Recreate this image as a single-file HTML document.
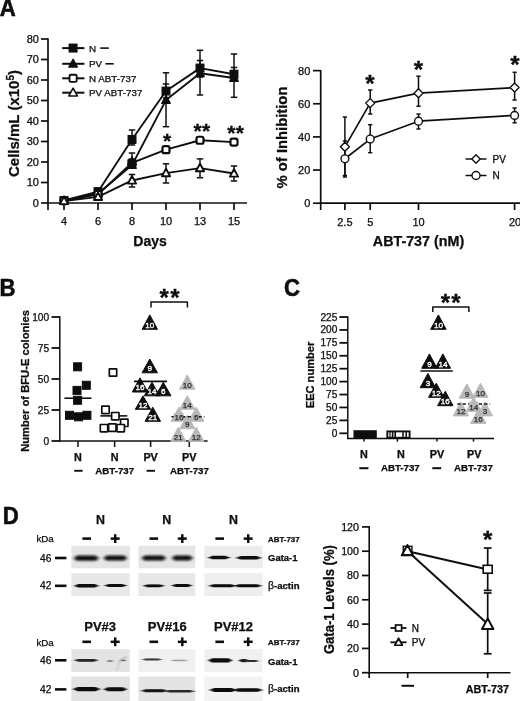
<!DOCTYPE html><html><head><meta charset="utf-8"><title>Figure</title>
<style>html,body{margin:0;padding:0;background:#fff;}svg{display:block;}text{font-family:"Liberation Sans",sans-serif;}</style></head><body>
<svg width="520" height="701" viewBox="0 0 520 701">
<defs><filter id="soft" x="0" y="0" width="520" height="701" filterUnits="userSpaceOnUse"><feGaussianBlur stdDeviation="0.35"/></filter><filter id="bl" x="-10%" y="-50%" width="120%" height="200%"><feGaussianBlur stdDeviation="1.5 1.15"/></filter><filter id="bl2" x="-10%" y="-50%" width="120%" height="200%"><feGaussianBlur stdDeviation="1.2 0.6"/></filter></defs>
<rect width="520" height="701" fill="#fff"/>
<g filter="url(#soft)">
<text x="-0.3" y="15.8" font-size="23" text-anchor="start" fill="#0a0a0a" font-weight="700" stroke="#0a0a0a" stroke-width="0.55" textLength="16.0" lengthAdjust="spacingAndGlyphs" >A</text>
<text x="-0.5" y="296.2" font-size="23" text-anchor="start" fill="#0a0a0a" font-weight="700" stroke="#0a0a0a" stroke-width="0.55" textLength="16.0" lengthAdjust="spacingAndGlyphs" >B</text>
<text x="283.9" y="296" font-size="23" text-anchor="start" fill="#0a0a0a" font-weight="700" stroke="#0a0a0a" stroke-width="0.55" textLength="16.0" lengthAdjust="spacingAndGlyphs" >C</text>
<text x="2.7" y="523.7" font-size="23" text-anchor="start" fill="#0a0a0a" font-weight="700" stroke="#0a0a0a" stroke-width="0.55" textLength="16.0" lengthAdjust="spacingAndGlyphs" >D</text>
<line x1="48.0" y1="38.2" x2="48.0" y2="203.85" stroke="#111" stroke-width="1.7" />
<line x1="47.15" y1="203.0" x2="247" y2="203.0" stroke="#111" stroke-width="1.7" />
<line x1="41" y1="203.0" x2="48.0" y2="203.0" stroke="#111" stroke-width="1.7" />
<text x="38.9" y="206.9" font-size="11" text-anchor="end" fill="#0a0a0a" stroke="#0a0a0a" stroke-width="0.25" >0</text>
<line x1="41" y1="182.5" x2="48.0" y2="182.5" stroke="#111" stroke-width="1.7" />
<text x="38.9" y="186.4" font-size="11" text-anchor="end" fill="#0a0a0a" stroke="#0a0a0a" stroke-width="0.25" >10</text>
<line x1="41" y1="162.0" x2="48.0" y2="162.0" stroke="#111" stroke-width="1.7" />
<text x="38.9" y="165.9" font-size="11" text-anchor="end" fill="#0a0a0a" stroke="#0a0a0a" stroke-width="0.25" >20</text>
<line x1="41" y1="141.5" x2="48.0" y2="141.5" stroke="#111" stroke-width="1.7" />
<text x="38.9" y="145.4" font-size="11" text-anchor="end" fill="#0a0a0a" stroke="#0a0a0a" stroke-width="0.25" >30</text>
<line x1="41" y1="121.0" x2="48.0" y2="121.0" stroke="#111" stroke-width="1.7" />
<text x="38.9" y="124.9" font-size="11" text-anchor="end" fill="#0a0a0a" stroke="#0a0a0a" stroke-width="0.25" >40</text>
<line x1="41" y1="100.5" x2="48.0" y2="100.5" stroke="#111" stroke-width="1.7" />
<text x="38.9" y="104.4" font-size="11" text-anchor="end" fill="#0a0a0a" stroke="#0a0a0a" stroke-width="0.25" >50</text>
<line x1="41" y1="80.0" x2="48.0" y2="80.0" stroke="#111" stroke-width="1.7" />
<text x="38.9" y="83.9" font-size="11" text-anchor="end" fill="#0a0a0a" stroke="#0a0a0a" stroke-width="0.25" >60</text>
<line x1="41" y1="59.5" x2="48.0" y2="59.5" stroke="#111" stroke-width="1.7" />
<text x="38.9" y="63.4" font-size="11" text-anchor="end" fill="#0a0a0a" stroke="#0a0a0a" stroke-width="0.25" >70</text>
<line x1="41" y1="39.0" x2="48.0" y2="39.0" stroke="#111" stroke-width="1.7" />
<text x="38.9" y="42.9" font-size="11" text-anchor="end" fill="#0a0a0a" stroke="#0a0a0a" stroke-width="0.25" >80</text>
<line x1="48.0" y1="203.0" x2="48.0" y2="210" stroke="#111" stroke-width="1.7" />
<line x1="64" y1="203.0" x2="64" y2="210" stroke="#111" stroke-width="1.7" />
<text x="64" y="225.4" font-size="11" text-anchor="middle" fill="#0a0a0a" stroke="#0a0a0a" stroke-width="0.25" >4</text>
<line x1="98" y1="203.0" x2="98" y2="210" stroke="#111" stroke-width="1.7" />
<text x="98" y="225.4" font-size="11" text-anchor="middle" fill="#0a0a0a" stroke="#0a0a0a" stroke-width="0.25" >6</text>
<line x1="132" y1="203.0" x2="132" y2="210" stroke="#111" stroke-width="1.7" />
<text x="132" y="225.4" font-size="11" text-anchor="middle" fill="#0a0a0a" stroke="#0a0a0a" stroke-width="0.25" >8</text>
<line x1="166" y1="203.0" x2="166" y2="210" stroke="#111" stroke-width="1.7" />
<text x="166" y="225.4" font-size="11" text-anchor="middle" fill="#0a0a0a" stroke="#0a0a0a" stroke-width="0.25" >10</text>
<line x1="200" y1="203.0" x2="200" y2="210" stroke="#111" stroke-width="1.7" />
<text x="200" y="225.4" font-size="11" text-anchor="middle" fill="#0a0a0a" stroke="#0a0a0a" stroke-width="0.25" >13</text>
<line x1="234" y1="203.0" x2="234" y2="210" stroke="#111" stroke-width="1.7" />
<text x="234" y="225.4" font-size="11" text-anchor="middle" fill="#0a0a0a" stroke="#0a0a0a" stroke-width="0.25" >15</text>
<text x="150" y="245.9" font-size="14" text-anchor="middle" fill="#0a0a0a" font-weight="700" stroke="#0a0a0a" stroke-width="0.25" >Days</text>
<text x="19.4" y="123.5" font-size="15" text-anchor="middle" fill="#0a0a0a" font-weight="700" stroke="#0a0a0a" stroke-width="0.25" transform="rotate(-90 19.4 123.5)" >Cells/mL (x10<tspan font-size="10" dy="-5">5</tspan><tspan dy="5">)</tspan></text>
<line x1="132" y1="130" x2="132" y2="145" stroke="#111" stroke-width="1.5" />
<line x1="128.8" y1="130" x2="135.2" y2="130" stroke="#111" stroke-width="1.5" />
<line x1="128.8" y1="145" x2="135.2" y2="145" stroke="#111" stroke-width="1.5" />
<line x1="166" y1="72.8" x2="166" y2="126.7" stroke="#111" stroke-width="1.5" />
<line x1="162.8" y1="72.8" x2="169.2" y2="72.8" stroke="#111" stroke-width="1.5" />
<line x1="162.8" y1="126.7" x2="169.2" y2="126.7" stroke="#111" stroke-width="1.5" />
<line x1="200" y1="50.3" x2="200" y2="95" stroke="#111" stroke-width="1.5" />
<line x1="196.8" y1="50.3" x2="203.2" y2="50.3" stroke="#111" stroke-width="1.5" />
<line x1="196.8" y1="95" x2="203.2" y2="95" stroke="#111" stroke-width="1.5" />
<line x1="234" y1="54" x2="234" y2="97.3" stroke="#111" stroke-width="1.5" />
<line x1="230.8" y1="54" x2="237.2" y2="54" stroke="#111" stroke-width="1.5" />
<line x1="230.8" y1="97.3" x2="237.2" y2="97.3" stroke="#111" stroke-width="1.5" />
<line x1="200" y1="60.5" x2="200" y2="77" stroke="#111" stroke-width="1.5" />
<line x1="196.8" y1="60.5" x2="203.2" y2="60.5" stroke="#111" stroke-width="1.5" />
<line x1="196.8" y1="77" x2="203.2" y2="77" stroke="#111" stroke-width="1.5" />
<line x1="234" y1="67.5" x2="234" y2="80" stroke="#111" stroke-width="1.5" />
<line x1="230.8" y1="67.5" x2="237.2" y2="67.5" stroke="#111" stroke-width="1.5" />
<line x1="230.8" y1="80" x2="237.2" y2="80" stroke="#111" stroke-width="1.5" />
<line x1="132" y1="153" x2="132" y2="168" stroke="#111" stroke-width="1.5" />
<line x1="128.8" y1="153" x2="135.2" y2="153" stroke="#111" stroke-width="1.5" />
<line x1="128.8" y1="168" x2="135.2" y2="168" stroke="#111" stroke-width="1.5" />
<line x1="166" y1="84" x2="166" y2="98" stroke="#111" stroke-width="1.5" />
<line x1="162.8" y1="84" x2="169.2" y2="84" stroke="#111" stroke-width="1.5" />
<line x1="162.8" y1="98" x2="169.2" y2="98" stroke="#111" stroke-width="1.5" />
<line x1="132" y1="174.5" x2="132" y2="187" stroke="#111" stroke-width="1.5" />
<line x1="128.8" y1="174.5" x2="135.2" y2="174.5" stroke="#111" stroke-width="1.5" />
<line x1="128.8" y1="187" x2="135.2" y2="187" stroke="#111" stroke-width="1.5" />
<line x1="166" y1="163.8" x2="166" y2="183" stroke="#111" stroke-width="1.5" />
<line x1="162.8" y1="163.8" x2="169.2" y2="163.8" stroke="#111" stroke-width="1.5" />
<line x1="162.8" y1="183" x2="169.2" y2="183" stroke="#111" stroke-width="1.5" />
<line x1="200" y1="158.9" x2="200" y2="177.7" stroke="#111" stroke-width="1.5" />
<line x1="196.8" y1="158.9" x2="203.2" y2="158.9" stroke="#111" stroke-width="1.5" />
<line x1="196.8" y1="177.7" x2="203.2" y2="177.7" stroke="#111" stroke-width="1.5" />
<line x1="234" y1="166" x2="234" y2="181" stroke="#111" stroke-width="1.5" />
<line x1="230.8" y1="166" x2="237.2" y2="166" stroke="#111" stroke-width="1.5" />
<line x1="230.8" y1="181" x2="237.2" y2="181" stroke="#111" stroke-width="1.5" />
<line x1="98" y1="188" x2="98" y2="197" stroke="#111" stroke-width="1.5" />
<line x1="94.8" y1="188" x2="101.2" y2="188" stroke="#111" stroke-width="1.5" />
<line x1="94.8" y1="197" x2="101.2" y2="197" stroke="#111" stroke-width="1.5" />
<polyline points="64,200.54 98,191.72 132,139.45 166,91.07 200,68.11 234,74.26" fill="none" stroke="#111" stroke-width="1.9" stroke-linejoin="round" />
<polyline points="64,200.54 98,193.78 132,165.07 166,100.09 200,73.24 234,77.95" fill="none" stroke="#111" stroke-width="1.9" stroke-linejoin="round" />
<polyline points="64,200.54 98,194.39 132,162.82 166,149.7 200,140.27 234,142.12" fill="none" stroke="#111" stroke-width="1.9" stroke-linejoin="round" />
<polyline points="64,200.95 98,196.85 132,180.45 166,173.07 200,168.15 234,173.48" fill="none" stroke="#111" stroke-width="1.9" stroke-linejoin="round" />
<rect x="60.2" y="196.73999999999998" width="7.6" height="7.6" rx="0" fill="#111" stroke="#111" stroke-width="1.4"/>
<rect x="94.2" y="187.92" width="7.6" height="7.6" rx="0" fill="#111" stroke="#111" stroke-width="1.4"/>
<rect x="128.2" y="135.64999999999998" width="7.6" height="7.6" rx="0" fill="#111" stroke="#111" stroke-width="1.4"/>
<rect x="162.2" y="87.27" width="7.6" height="7.6" rx="0" fill="#111" stroke="#111" stroke-width="1.4"/>
<rect x="196.2" y="64.31" width="7.6" height="7.6" rx="0" fill="#111" stroke="#111" stroke-width="1.4"/>
<rect x="230.2" y="70.46000000000001" width="7.6" height="7.6" rx="0" fill="#111" stroke="#111" stroke-width="1.4"/>
<polygon points="64,196.0044 59.75,203.8244 68.25,203.8244" fill="#111" stroke="#111" stroke-width="1.4" stroke-linejoin="round"/>
<polygon points="98,189.2444 93.75,197.0644 102.25,197.0644" fill="#111" stroke="#111" stroke-width="1.4" stroke-linejoin="round"/>
<polygon points="132,160.5344 127.75,168.3544 136.25,168.3544" fill="#111" stroke="#111" stroke-width="1.4" stroke-linejoin="round"/>
<polygon points="166,95.5544 161.75,103.37440000000001 170.25,103.37440000000001" fill="#111" stroke="#111" stroke-width="1.4" stroke-linejoin="round"/>
<polygon points="200,68.70439999999999 195.75,76.5244 204.25,76.5244" fill="#111" stroke="#111" stroke-width="1.4" stroke-linejoin="round"/>
<polygon points="234,73.4144 229.75,81.23440000000001 238.25,81.23440000000001" fill="#111" stroke="#111" stroke-width="1.4" stroke-linejoin="round"/>
<rect x="60.5" y="197.04" width="7.0" height="7.0" rx="1.8" fill="#fff" stroke="#111" stroke-width="2.2"/>
<rect x="94.5" y="190.89" width="7.0" height="7.0" rx="1.8" fill="#fff" stroke="#111" stroke-width="2.2"/>
<rect x="128.5" y="159.32" width="7.0" height="7.0" rx="1.8" fill="#fff" stroke="#111" stroke-width="2.2"/>
<rect x="162.5" y="146.2" width="7.0" height="7.0" rx="1.8" fill="#fff" stroke="#111" stroke-width="2.2"/>
<rect x="196.5" y="136.77" width="7.0" height="7.0" rx="1.8" fill="#fff" stroke="#111" stroke-width="2.2"/>
<rect x="230.5" y="138.62" width="7.0" height="7.0" rx="1.8" fill="#fff" stroke="#111" stroke-width="2.2"/>
<polygon points="64,196.57448 59.9,204.11847999999998 68.1,204.11847999999998" fill="#fff" stroke="#111" stroke-width="1.9" stroke-linejoin="round"/>
<polygon points="98,192.47448 93.9,200.01847999999998 102.1,200.01847999999998" fill="#fff" stroke="#111" stroke-width="1.9" stroke-linejoin="round"/>
<polygon points="132,176.07448 127.9,183.61847999999998 136.1,183.61847999999998" fill="#fff" stroke="#111" stroke-width="1.9" stroke-linejoin="round"/>
<polygon points="166,168.69448 161.9,176.23847999999998 170.1,176.23847999999998" fill="#fff" stroke="#111" stroke-width="1.9" stroke-linejoin="round"/>
<polygon points="200,163.77448 195.9,171.31848 204.1,171.31848" fill="#fff" stroke="#111" stroke-width="1.9" stroke-linejoin="round"/>
<polygon points="234,169.10448 229.9,176.64847999999998 238.1,176.64847999999998" fill="#fff" stroke="#111" stroke-width="1.9" stroke-linejoin="round"/>
<rect x="128.5" y="159.9" width="7.0" height="7.0" rx="0" fill="#111" stroke="#111" stroke-width="1.4"/>
<polygon points="132,157.0644 127.75,164.8844 136.25,164.8844" fill="#111" stroke="#111" stroke-width="1.4" stroke-linejoin="round"/>
<text x="167.0" y="147.9" font-size="21" text-anchor="middle" fill="#0a0a0a" font-weight="700" stroke="#0a0a0a" stroke-width="0.3" >*</text>
<text x="197.6" y="138.4" font-size="21" text-anchor="middle" fill="#0a0a0a" font-weight="700" stroke="#0a0a0a" stroke-width="0.3" >*</text>
<text x="206.2" y="138.4" font-size="21" text-anchor="middle" fill="#0a0a0a" font-weight="700" stroke="#0a0a0a" stroke-width="0.3" >*</text>
<text x="231.3" y="140.3" font-size="21" text-anchor="middle" fill="#0a0a0a" font-weight="700" stroke="#0a0a0a" stroke-width="0.3" >*</text>
<text x="239.9" y="140.3" font-size="21" text-anchor="middle" fill="#0a0a0a" font-weight="700" stroke="#0a0a0a" stroke-width="0.3" >*</text>
<line x1="62.2" y1="48.1" x2="84.4" y2="48.1" stroke="#111" stroke-width="2.0" />
<rect x="69.3" y="44.300000000000004" width="7.6" height="7.6" rx="0" fill="#111" stroke="#111" stroke-width="1.4"/>
<text x="89" y="51.6" font-size="9.8" text-anchor="start" fill="#0a0a0a" stroke="#0a0a0a" stroke-width="0.25" >N</text>
<line x1="62.2" y1="63.8" x2="84.4" y2="63.8" stroke="#111" stroke-width="2.0" />
<polygon points="73.1,59.264399999999995 68.85,67.0844 77.35,67.0844" fill="#111" stroke="#111" stroke-width="1.4" stroke-linejoin="round"/>
<text x="89" y="67.3" font-size="9.8" text-anchor="start" fill="#0a0a0a" stroke="#0a0a0a" stroke-width="0.25" >PV</text>
<line x1="62.2" y1="78.3" x2="84.4" y2="78.3" stroke="#111" stroke-width="2.0" />
<rect x="69.5" y="74.7" width="7.2" height="7.2" rx="1.5" fill="#fff" stroke="#111" stroke-width="1.9"/>
<text x="89" y="81.8" font-size="9.8" text-anchor="start" fill="#0a0a0a" stroke="#0a0a0a" stroke-width="0.25" >N ABT-737</text>
<line x1="62.2" y1="92.7" x2="84.4" y2="92.7" stroke="#111" stroke-width="2.0" />
<polygon points="73.1,88.1644 68.85,95.98440000000001 77.35,95.98440000000001" fill="#fff" stroke="#111" stroke-width="1.6" stroke-linejoin="round"/>
<text x="89" y="96.2" font-size="9.8" text-anchor="start" fill="#0a0a0a" stroke="#0a0a0a" stroke-width="0.25" >PV ABT-737</text>
<line x1="100.2" y1="48.1" x2="108.8" y2="48.1" stroke="#111" stroke-width="1.6" />
<line x1="105.4" y1="63.8" x2="113.7" y2="63.8" stroke="#111" stroke-width="1.6" />
<line x1="320.7" y1="70" x2="320.7" y2="204.04999999999998" stroke="#111" stroke-width="1.7" />
<line x1="319.84999999999997" y1="203.2" x2="520" y2="203.2" stroke="#111" stroke-width="1.7" />
<line x1="313" y1="203.2" x2="320.7" y2="203.2" stroke="#111" stroke-width="1.7" />
<text x="310.3" y="207.1" font-size="11" text-anchor="end" fill="#0a0a0a" stroke="#0a0a0a" stroke-width="0.25" >0</text>
<line x1="313" y1="170.06" x2="320.7" y2="170.06" stroke="#111" stroke-width="1.7" />
<text x="310.3" y="173.96" font-size="11" text-anchor="end" fill="#0a0a0a" stroke="#0a0a0a" stroke-width="0.25" >20</text>
<line x1="313" y1="136.92" x2="320.7" y2="136.92" stroke="#111" stroke-width="1.7" />
<text x="310.3" y="140.82" font-size="11" text-anchor="end" fill="#0a0a0a" stroke="#0a0a0a" stroke-width="0.25" >40</text>
<line x1="313" y1="103.78" x2="320.7" y2="103.78" stroke="#111" stroke-width="1.7" />
<text x="310.3" y="107.68" font-size="11" text-anchor="end" fill="#0a0a0a" stroke="#0a0a0a" stroke-width="0.25" >60</text>
<line x1="313" y1="70.64" x2="320.7" y2="70.64" stroke="#111" stroke-width="1.7" />
<text x="310.3" y="74.54" font-size="11" text-anchor="end" fill="#0a0a0a" stroke="#0a0a0a" stroke-width="0.25" >80</text>
<line x1="320.7" y1="203.2" x2="320.7" y2="210" stroke="#111" stroke-width="1.7" />
<line x1="344.9" y1="203.2" x2="344.9" y2="210" stroke="#111" stroke-width="1.7" />
<text x="344.9" y="225.6" font-size="11" text-anchor="middle" fill="#0a0a0a" stroke="#0a0a0a" stroke-width="0.25" >2.5</text>
<line x1="370.2" y1="203.2" x2="370.2" y2="210" stroke="#111" stroke-width="1.7" />
<text x="370.2" y="225.6" font-size="11" text-anchor="middle" fill="#0a0a0a" stroke="#0a0a0a" stroke-width="0.25" >5</text>
<line x1="418.5" y1="203.2" x2="418.5" y2="210" stroke="#111" stroke-width="1.7" />
<text x="418.5" y="225.6" font-size="11" text-anchor="middle" fill="#0a0a0a" stroke="#0a0a0a" stroke-width="0.25" >10</text>
<line x1="514.6" y1="203.2" x2="514.6" y2="210" stroke="#111" stroke-width="1.7" />
<text x="515" y="225.6" font-size="11" text-anchor="middle" fill="#0a0a0a" stroke="#0a0a0a" stroke-width="0.25" >20</text>
<text x="418.5" y="246.2" font-size="14.3" text-anchor="middle" fill="#0a0a0a" font-weight="700" stroke="#0a0a0a" stroke-width="0.25" >ABT-737 (nM)</text>
<text x="287" y="137.5" font-size="14.8" text-anchor="middle" fill="#0a0a0a" font-weight="700" stroke="#0a0a0a" stroke-width="0.25" transform="rotate(-90 287 137.5)" >% of Inhibition</text>
<line x1="344.9" y1="117" x2="344.9" y2="175.5" stroke="#111" stroke-width="1.5" />
<line x1="342.79999999999995" y1="117" x2="347.0" y2="117" stroke="#111" stroke-width="1.5" />
<line x1="342.79999999999995" y1="175.5" x2="347.0" y2="175.5" stroke="#111" stroke-width="1.5" />
<line x1="370.2" y1="90" x2="370.2" y2="114" stroke="#111" stroke-width="1.5" />
<line x1="368.09999999999997" y1="90" x2="372.3" y2="90" stroke="#111" stroke-width="1.5" />
<line x1="368.09999999999997" y1="114" x2="372.3" y2="114" stroke="#111" stroke-width="1.5" />
<line x1="418.5" y1="76.2" x2="418.5" y2="106.2" stroke="#111" stroke-width="1.5" />
<line x1="416.4" y1="76.2" x2="420.6" y2="76.2" stroke="#111" stroke-width="1.5" />
<line x1="416.4" y1="106.2" x2="420.6" y2="106.2" stroke="#111" stroke-width="1.5" />
<line x1="514.6" y1="72.3" x2="514.6" y2="100" stroke="#111" stroke-width="1.5" />
<line x1="512.5" y1="72.3" x2="516.7" y2="72.3" stroke="#111" stroke-width="1.5" />
<line x1="512.5" y1="100" x2="516.7" y2="100" stroke="#111" stroke-width="1.5" />
<line x1="344.9" y1="141" x2="344.9" y2="177" stroke="#111" stroke-width="1.5" />
<line x1="342.79999999999995" y1="141" x2="347.0" y2="141" stroke="#111" stroke-width="1.5" />
<line x1="342.79999999999995" y1="177" x2="347.0" y2="177" stroke="#111" stroke-width="1.5" />
<line x1="370.2" y1="124.7" x2="370.2" y2="152.7" stroke="#111" stroke-width="1.5" />
<line x1="368.09999999999997" y1="124.7" x2="372.3" y2="124.7" stroke="#111" stroke-width="1.5" />
<line x1="368.09999999999997" y1="152.7" x2="372.3" y2="152.7" stroke="#111" stroke-width="1.5" />
<line x1="418.5" y1="114" x2="418.5" y2="129" stroke="#111" stroke-width="1.5" />
<line x1="416.4" y1="114" x2="420.6" y2="114" stroke="#111" stroke-width="1.5" />
<line x1="416.4" y1="129" x2="420.6" y2="129" stroke="#111" stroke-width="1.5" />
<line x1="514.6" y1="108" x2="514.6" y2="122.8" stroke="#111" stroke-width="1.5" />
<line x1="512.5" y1="108" x2="516.7" y2="108" stroke="#111" stroke-width="1.5" />
<line x1="512.5" y1="122.8" x2="516.7" y2="122.8" stroke="#111" stroke-width="1.5" />
<polyline points="344.9,146.86 370.2,103.12 418.5,93.18 514.6,87.54" fill="none" stroke="#111" stroke-width="1.7" stroke-linejoin="round" />
<polyline points="344.9,158.79 370.2,139.07 418.5,121.18 514.6,115.38" fill="none" stroke="#111" stroke-width="1.7" stroke-linejoin="round" />
<polygon points="344.9,142.36 349.4,146.86 344.9,151.36 340.4,146.86" fill="#fff" stroke="#111" stroke-width="1.4" stroke-linejoin="round"/>
<polygon points="370.2,98.62 374.7,103.12 370.2,107.62 365.7,103.12" fill="#fff" stroke="#111" stroke-width="1.4" stroke-linejoin="round"/>
<polygon points="418.5,88.68 423.0,93.18 418.5,97.68 414.0,93.18" fill="#fff" stroke="#111" stroke-width="1.4" stroke-linejoin="round"/>
<polygon points="514.6,83.04 519.1,87.54 514.6,92.04 510.1,87.54" fill="#fff" stroke="#111" stroke-width="1.4" stroke-linejoin="round"/>
<circle cx="344.9" cy="158.79" r="3.9" fill="#fff" stroke="#111" stroke-width="1.4"/>
<circle cx="370.2" cy="139.07" r="3.9" fill="#fff" stroke="#111" stroke-width="1.4"/>
<circle cx="418.5" cy="121.18" r="3.9" fill="#fff" stroke="#111" stroke-width="1.4"/>
<circle cx="514.6" cy="115.38" r="3.9" fill="#fff" stroke="#111" stroke-width="1.4"/>
<text x="370.0" y="91.58" font-size="24" text-anchor="middle" fill="#0a0a0a" font-weight="700" stroke="#0a0a0a" stroke-width="0.3" >*</text>
<text x="418.3" y="78.48" font-size="24" text-anchor="middle" fill="#0a0a0a" font-weight="700" stroke="#0a0a0a" stroke-width="0.3" >*</text>
<text x="514.8" y="73.38" font-size="24" text-anchor="middle" fill="#0a0a0a" font-weight="700" stroke="#0a0a0a" stroke-width="0.3" >*</text>
<line x1="465.5" y1="159" x2="486.5" y2="159" stroke="#111" stroke-width="1.5" />
<polygon points="476,154.8 480.2,159 476,163.2 471.8,159" fill="#fff" stroke="#111" stroke-width="1.4" stroke-linejoin="round"/>
<line x1="465.5" y1="175.5" x2="486.5" y2="175.5" stroke="#111" stroke-width="1.5" />
<circle cx="476" cy="175.5" r="4.0" fill="#fff" stroke="#111" stroke-width="1.4"/>
<text x="492.5" y="162.6" font-size="10" text-anchor="start" fill="#0a0a0a" stroke="#0a0a0a" stroke-width="0.25" >PV</text>
<text x="492.5" y="179.1" font-size="10" text-anchor="start" fill="#0a0a0a" stroke="#0a0a0a" stroke-width="0.25" >N</text>
<line x1="59.8" y1="316.3" x2="59.8" y2="441.75" stroke="#111" stroke-width="1.5" />
<line x1="59.05" y1="441.0" x2="207.6" y2="441.0" stroke="#111" stroke-width="1.5" />
<line x1="51.5" y1="441.0" x2="59.8" y2="441.0" stroke="#111" stroke-width="1.8" />
<text x="49.2" y="444.6" font-size="10.2" text-anchor="end" fill="#0a0a0a" stroke="#0a0a0a" stroke-width="0.25" >0</text>
<line x1="51.5" y1="410.0" x2="59.8" y2="410.0" stroke="#111" stroke-width="1.8" />
<text x="49.2" y="413.6" font-size="10.2" text-anchor="end" fill="#0a0a0a" stroke="#0a0a0a" stroke-width="0.25" >25</text>
<line x1="51.5" y1="379.0" x2="59.8" y2="379.0" stroke="#111" stroke-width="1.8" />
<text x="49.2" y="382.6" font-size="10.2" text-anchor="end" fill="#0a0a0a" stroke="#0a0a0a" stroke-width="0.25" >50</text>
<line x1="51.5" y1="348.0" x2="59.8" y2="348.0" stroke="#111" stroke-width="1.8" />
<text x="49.2" y="351.6" font-size="10.2" text-anchor="end" fill="#0a0a0a" stroke="#0a0a0a" stroke-width="0.25" >75</text>
<line x1="51.5" y1="317.0" x2="59.8" y2="317.0" stroke="#111" stroke-width="1.8" />
<text x="49.2" y="320.6" font-size="10.2" text-anchor="end" fill="#0a0a0a" stroke="#0a0a0a" stroke-width="0.25" >100</text>
<line x1="78" y1="441.0" x2="78" y2="447" stroke="#111" stroke-width="1.5" />
<line x1="114.6" y1="441.0" x2="114.6" y2="447" stroke="#111" stroke-width="1.5" />
<line x1="150.6" y1="441.0" x2="150.6" y2="447" stroke="#111" stroke-width="1.5" />
<line x1="189.3" y1="441.0" x2="189.3" y2="447" stroke="#111" stroke-width="1.5" />
<text x="78" y="461.2" font-size="10.8" text-anchor="middle" fill="#0a0a0a" font-weight="700" stroke="#0a0a0a" stroke-width="0.25" >N</text>
<text x="114.6" y="461.2" font-size="10.8" text-anchor="middle" fill="#0a0a0a" font-weight="700" stroke="#0a0a0a" stroke-width="0.25" >N</text>
<text x="150.6" y="461.2" font-size="10.8" text-anchor="middle" fill="#0a0a0a" font-weight="700" stroke="#0a0a0a" stroke-width="0.25" >PV</text>
<text x="189.3" y="461.2" font-size="10.8" text-anchor="middle" fill="#0a0a0a" font-weight="700" stroke="#0a0a0a" stroke-width="0.25" >PV</text>
<line x1="74.2" y1="470.8" x2="82.6" y2="470.8" stroke="#111" stroke-width="1.9" />
<line x1="146.6" y1="470.8" x2="155" y2="470.8" stroke="#111" stroke-width="1.9" />
<text x="114.7" y="474.2" font-size="9.7" text-anchor="middle" fill="#0a0a0a" font-weight="700" stroke="#0a0a0a" stroke-width="0.25" >ABT-737</text>
<text x="189.5" y="474.2" font-size="9.7" text-anchor="middle" fill="#0a0a0a" font-weight="700" stroke="#0a0a0a" stroke-width="0.25" >ABT-737</text>
<text x="29.3" y="381" font-size="11.2" text-anchor="middle" fill="#0a0a0a" font-weight="700" stroke="#0a0a0a" stroke-width="0.25" transform="rotate(-90 29.3 381)" >Number of BFU-E colonies</text>
<rect x="73.6" y="362.8" width="8.0" height="8.0" rx="0" fill="#111" stroke="#111" stroke-width="1.0"/>
<rect x="82.3" y="381.3" width="8.0" height="8.0" rx="0" fill="#111" stroke="#111" stroke-width="1.0"/>
<rect x="73.0" y="386.4" width="8.0" height="8.0" rx="0" fill="#111" stroke="#111" stroke-width="1.0"/>
<rect x="73.6" y="396.3" width="8.0" height="8.0" rx="0" fill="#111" stroke="#111" stroke-width="1.0"/>
<rect x="65.5" y="411.3" width="8.0" height="8.0" rx="0" fill="#111" stroke="#111" stroke-width="1.0"/>
<rect x="74.5" y="412.8" width="8.0" height="8.0" rx="0" fill="#111" stroke="#111" stroke-width="1.0"/>
<rect x="82.9" y="411.3" width="8.0" height="8.0" rx="0" fill="#111" stroke="#111" stroke-width="1.0"/>
<line x1="64.4" y1="398.2" x2="91.4" y2="398.2" stroke="#111" stroke-width="1.6" />
<line x1="100.4" y1="415.9" x2="127.3" y2="415.9" stroke="#111" stroke-width="1.6" />
<rect x="109.3" y="368.8" width="7.4" height="7.4" rx="0.3" fill="#fff" stroke="#111" stroke-width="1.7"/>
<rect x="101.8" y="406.2" width="7.4" height="7.4" rx="0.3" fill="#fff" stroke="#111" stroke-width="1.7"/>
<rect x="111.6" y="412.5" width="7.4" height="7.4" rx="0.3" fill="#fff" stroke="#111" stroke-width="1.7"/>
<rect x="120.6" y="419.1" width="7.4" height="7.4" rx="0.3" fill="#fff" stroke="#111" stroke-width="1.7"/>
<rect x="100.3" y="424.5" width="7.4" height="7.4" rx="0.3" fill="#fff" stroke="#111" stroke-width="1.7"/>
<rect x="108.6" y="423.90000000000003" width="7.4" height="7.4" rx="0.3" fill="#fff" stroke="#111" stroke-width="1.7"/>
<rect x="117.0" y="424.5" width="7.4" height="7.4" rx="0.3" fill="#fff" stroke="#111" stroke-width="1.7"/>
<line x1="134" y1="381.4" x2="167" y2="381.4" stroke="#111" stroke-width="1.6" />
<polygon points="149.8,314.9 142.10000000000002,329.3 157.5,329.3" fill="#0c0c0c" stroke="#0c0c0c" stroke-width="1" stroke-linejoin="round"/>
<text x="149.8" y="327.6" font-size="8.1" text-anchor="middle" fill="#fff" stroke="#fff" stroke-width="0.35" >10</text>
<polygon points="149.8,359 142.10000000000002,372.8 157.5,372.8" fill="#0c0c0c" stroke="#0c0c0c" stroke-width="1" stroke-linejoin="round"/>
<text x="149.8" y="371.1" font-size="8.1" text-anchor="middle" fill="#fff" stroke="#fff" stroke-width="0.35" >9</text>
<polygon points="140,377.8 132.3,392 147.7,392" fill="#0c0c0c" stroke="#0c0c0c" stroke-width="1" stroke-linejoin="round"/>
<text x="140" y="390.3" font-size="8.1" text-anchor="middle" fill="#fff" stroke="#fff" stroke-width="0.35" >16</text>
<polygon points="163.3,382.3 155.60000000000002,395.8 171.0,395.8" fill="#0c0c0c" stroke="#0c0c0c" stroke-width="1" stroke-linejoin="round"/>
<text x="163.3" y="394.1" font-size="8.1" text-anchor="middle" fill="#fff" stroke="#fff" stroke-width="0.35" >6</text>
<polygon points="152,382.3 144.3,395.8 159.7,395.8" fill="#0c0c0c" stroke="#0c0c0c" stroke-width="1" stroke-linejoin="round"/>
<text x="152" y="394.1" font-size="8.1" text-anchor="middle" fill="#fff" stroke="#fff" stroke-width="0.35" >14</text>
<polygon points="143,395.8 135.3,409.3 150.7,409.3" fill="#0c0c0c" stroke="#0c0c0c" stroke-width="1" stroke-linejoin="round"/>
<text x="143" y="407.6" font-size="8.1" text-anchor="middle" fill="#fff" stroke="#fff" stroke-width="0.35" >12</text>
<polygon points="152.8,407.2 145.10000000000002,421.3 160.5,421.3" fill="#0c0c0c" stroke="#0c0c0c" stroke-width="1" stroke-linejoin="round"/>
<text x="152.8" y="419.6" font-size="8.1" text-anchor="middle" fill="#fff" stroke="#fff" stroke-width="0.35" >21</text>
<polygon points="187.3,374.9 179.60000000000002,389.2 195.0,389.2" fill="#b9b9b9" stroke="#b9b9b9" stroke-width="1" stroke-linejoin="round"/>
<polygon points="187.3,395.8 179.60000000000002,409.3 195.0,409.3" fill="#b9b9b9" stroke="#b9b9b9" stroke-width="1" stroke-linejoin="round"/>
<polygon points="178.9,407.2 171.20000000000002,421.3 186.6,421.3" fill="#b9b9b9" stroke="#b9b9b9" stroke-width="1" stroke-linejoin="round"/>
<polygon points="196.3,407.2 188.60000000000002,421.3 204.0,421.3" fill="#b9b9b9" stroke="#b9b9b9" stroke-width="1" stroke-linejoin="round"/>
<polygon points="187.3,415.3 179.60000000000002,428.8 195.0,428.8" fill="#b9b9b9" stroke="#b9b9b9" stroke-width="1" stroke-linejoin="round"/>
<polygon points="178.3,427.3 170.60000000000002,441.4 186.0,441.4" fill="#b9b9b9" stroke="#b9b9b9" stroke-width="1" stroke-linejoin="round"/>
<polygon points="196.3,427.3 188.60000000000002,441.4 204.0,441.4" fill="#b9b9b9" stroke="#b9b9b9" stroke-width="1" stroke-linejoin="round"/>
<line x1="171.4" y1="416.8" x2="204.4" y2="416.8" stroke="#111" stroke-width="1.5" stroke-dasharray="3.2 2.2"/>
<rect x="173.6" y="413.2" width="9.6" height="6.6" fill="#b9b9b9"/><rect x="192.6" y="413.2" width="6" height="6.6" fill="#b9b9b9"/>
<text x="187.3" y="387.5" font-size="8.1" text-anchor="middle" fill="#2a2a2a" stroke="#2a2a2a" stroke-width="0.25" >10</text>
<text x="187.3" y="407.6" font-size="8.1" text-anchor="middle" fill="#2a2a2a" stroke="#2a2a2a" stroke-width="0.25" >14</text>
<text x="178.9" y="419.6" font-size="8.1" text-anchor="middle" fill="#2a2a2a" stroke="#2a2a2a" stroke-width="0.25" >16</text>
<text x="196.3" y="419.6" font-size="8.1" text-anchor="middle" fill="#2a2a2a" stroke="#2a2a2a" stroke-width="0.25" >6</text>
<text x="187.3" y="427.1" font-size="8.1" text-anchor="middle" fill="#2a2a2a" stroke="#2a2a2a" stroke-width="0.25" >9</text>
<text x="178.3" y="439.7" font-size="8.1" text-anchor="middle" fill="#2a2a2a" stroke="#2a2a2a" stroke-width="0.25" >21</text>
<text x="196.3" y="439.7" font-size="8.1" text-anchor="middle" fill="#2a2a2a" stroke="#2a2a2a" stroke-width="0.25" >12</text>
<polyline points="151.0,307.6 151.0,302.0 187.4,302.0 187.4,307.6" fill="none" stroke="#111" stroke-width="1.5" stroke-linejoin="round" />
<text x="164.2" y="305.88" font-size="24" text-anchor="middle" fill="#0a0a0a" font-weight="700" stroke="#0a0a0a" stroke-width="0.3" >*</text>
<text x="174.8" y="305.88" font-size="24" text-anchor="middle" fill="#0a0a0a" font-weight="700" stroke="#0a0a0a" stroke-width="0.3" >*</text>
<line x1="347.8" y1="316.3" x2="347.8" y2="438.4" stroke="#111" stroke-width="1.5" />
<line x1="347.05" y1="438.4" x2="494" y2="438.4" stroke="#111" stroke-width="1.5" />
<line x1="339.4" y1="433.3" x2="347.8" y2="433.3" stroke="#111" stroke-width="1.8" />
<text x="337.3" y="436.85" font-size="10.1" text-anchor="end" fill="#0a0a0a" stroke="#0a0a0a" stroke-width="0.25" >0</text>
<line x1="339.4" y1="420.38" x2="347.8" y2="420.38" stroke="#111" stroke-width="1.8" />
<text x="337.3" y="423.93" font-size="10.1" text-anchor="end" fill="#0a0a0a" stroke="#0a0a0a" stroke-width="0.25" >25</text>
<line x1="339.4" y1="407.46" x2="347.8" y2="407.46" stroke="#111" stroke-width="1.8" />
<text x="337.3" y="411.01" font-size="10.1" text-anchor="end" fill="#0a0a0a" stroke="#0a0a0a" stroke-width="0.25" >50</text>
<line x1="339.4" y1="394.54" x2="347.8" y2="394.54" stroke="#111" stroke-width="1.8" />
<text x="337.3" y="398.09000000000003" font-size="10.1" text-anchor="end" fill="#0a0a0a" stroke="#0a0a0a" stroke-width="0.25" >75</text>
<line x1="339.4" y1="381.62" x2="347.8" y2="381.62" stroke="#111" stroke-width="1.8" />
<text x="337.3" y="385.17" font-size="10.1" text-anchor="end" fill="#0a0a0a" stroke="#0a0a0a" stroke-width="0.25" >100</text>
<line x1="339.4" y1="368.7" x2="347.8" y2="368.7" stroke="#111" stroke-width="1.8" />
<text x="337.3" y="372.25" font-size="10.1" text-anchor="end" fill="#0a0a0a" stroke="#0a0a0a" stroke-width="0.25" >125</text>
<line x1="339.4" y1="355.78" x2="347.8" y2="355.78" stroke="#111" stroke-width="1.8" />
<text x="337.3" y="359.33" font-size="10.1" text-anchor="end" fill="#0a0a0a" stroke="#0a0a0a" stroke-width="0.25" >150</text>
<line x1="339.4" y1="342.86" x2="347.8" y2="342.86" stroke="#111" stroke-width="1.8" />
<text x="337.3" y="346.41" font-size="10.1" text-anchor="end" fill="#0a0a0a" stroke="#0a0a0a" stroke-width="0.25" >175</text>
<line x1="339.4" y1="329.94" x2="347.8" y2="329.94" stroke="#111" stroke-width="1.8" />
<text x="337.3" y="333.49" font-size="10.1" text-anchor="end" fill="#0a0a0a" stroke="#0a0a0a" stroke-width="0.25" >200</text>
<line x1="339.4" y1="317.02" x2="347.8" y2="317.02" stroke="#111" stroke-width="1.8" />
<text x="337.3" y="320.57" font-size="10.1" text-anchor="end" fill="#0a0a0a" stroke="#0a0a0a" stroke-width="0.25" >225</text>
<line x1="364" y1="438.4" x2="364" y2="441.6" stroke="#111" stroke-width="1.5" />
<line x1="397.4" y1="438.4" x2="397.4" y2="441.6" stroke="#111" stroke-width="1.5" />
<line x1="436.9" y1="438.4" x2="436.9" y2="441.6" stroke="#111" stroke-width="1.5" />
<line x1="473.5" y1="438.4" x2="473.5" y2="441.6" stroke="#111" stroke-width="1.5" />
<text x="364" y="458.4" font-size="10.8" text-anchor="middle" fill="#0a0a0a" font-weight="700" stroke="#0a0a0a" stroke-width="0.25" >N</text>
<text x="400.8" y="458.4" font-size="10.8" text-anchor="middle" fill="#0a0a0a" font-weight="700" stroke="#0a0a0a" stroke-width="0.25" >N</text>
<text x="436.9" y="458.4" font-size="10.8" text-anchor="middle" fill="#0a0a0a" font-weight="700" stroke="#0a0a0a" stroke-width="0.25" >PV</text>
<text x="474.2" y="458.4" font-size="10.8" text-anchor="middle" fill="#0a0a0a" font-weight="700" stroke="#0a0a0a" stroke-width="0.25" >PV</text>
<line x1="359.3" y1="468.2" x2="368.4" y2="468.2" stroke="#111" stroke-width="2.0" />
<line x1="432.3" y1="468.2" x2="441.2" y2="468.2" stroke="#111" stroke-width="2.0" />
<text x="400.3" y="471.0" font-size="9.7" text-anchor="middle" fill="#0a0a0a" font-weight="700" stroke="#0a0a0a" stroke-width="0.25" >ABT-737</text>
<text x="473.5" y="471.0" font-size="9.7" text-anchor="middle" fill="#0a0a0a" font-weight="700" stroke="#0a0a0a" stroke-width="0.25" >ABT-737</text>
<text x="314.0" y="375" font-size="10.8" text-anchor="middle" fill="#0a0a0a" font-weight="700" stroke="#0a0a0a" stroke-width="0.25" textLength="66.5" lengthAdjust="spacingAndGlyphs" transform="rotate(-90 314.0 375)" >EEC number</text>
<rect x="353.5" y="430.2" width="23.3" height="8.4" fill="#0c0c0c"/>
<rect x="387.3" y="431.4" width="22.3" height="6.4" fill="#fff" stroke="#111" stroke-width="1.9"/>
<line x1="390.0" y1="431.2" x2="390.0" y2="438.2" stroke="#111" stroke-width="1.2" />
<line x1="392.6" y1="431.2" x2="392.6" y2="438.2" stroke="#111" stroke-width="1.6" />
<line x1="395.2" y1="431.2" x2="395.2" y2="438.2" stroke="#111" stroke-width="1.7" />
<line x1="403.0" y1="431.2" x2="403.0" y2="438.2" stroke="#111" stroke-width="1.5" />
<line x1="406.2" y1="431.2" x2="406.2" y2="438.2" stroke="#111" stroke-width="1.5" />
<line x1="420.4" y1="371" x2="452.8" y2="371" stroke="#111" stroke-width="1.6" />
<polygon points="438.4,314.9 430.7,329.3 446.09999999999997,329.3" fill="#0c0c0c" stroke="#0c0c0c" stroke-width="1" stroke-linejoin="round"/>
<text x="438.4" y="327.6" font-size="8.1" text-anchor="middle" fill="#fff" stroke="#fff" stroke-width="0.35" >10</text>
<polygon points="429.4,353.9 421.7,368.3 437.09999999999997,368.3" fill="#0c0c0c" stroke="#0c0c0c" stroke-width="1" stroke-linejoin="round"/>
<text x="429.4" y="366.6" font-size="8.1" text-anchor="middle" fill="#fff" stroke="#fff" stroke-width="0.35" >9</text>
<polygon points="442.9,353.9 435.2,368.3 450.59999999999997,368.3" fill="#0c0c0c" stroke="#0c0c0c" stroke-width="1" stroke-linejoin="round"/>
<text x="442.9" y="366.6" font-size="8.1" text-anchor="middle" fill="#fff" stroke="#fff" stroke-width="0.35" >14</text>
<polygon points="427.9,373.4 420.2,387.7 435.59999999999997,387.7" fill="#0c0c0c" stroke="#0c0c0c" stroke-width="1" stroke-linejoin="round"/>
<text x="427.9" y="386.0" font-size="8.1" text-anchor="middle" fill="#fff" stroke="#fff" stroke-width="0.35" >3</text>
<polygon points="436.3,383.2 428.6,397.3 444.0,397.3" fill="#0c0c0c" stroke="#0c0c0c" stroke-width="1" stroke-linejoin="round"/>
<text x="436.3" y="395.6" font-size="8.1" text-anchor="middle" fill="#fff" stroke="#fff" stroke-width="0.35" >12</text>
<polygon points="445.3,391.3 437.6,405.7 453.0,405.7" fill="#0c0c0c" stroke="#0c0c0c" stroke-width="1" stroke-linejoin="round"/>
<text x="445.3" y="404.0" font-size="8.1" text-anchor="middle" fill="#fff" stroke="#fff" stroke-width="0.35" >16</text>
<polygon points="466.9,383.8 459.2,398.2 474.59999999999997,398.2" fill="#b9b9b9" stroke="#b9b9b9" stroke-width="1" stroke-linejoin="round"/>
<polygon points="480.4,383.2 472.7,397.3 488.09999999999997,397.3" fill="#b9b9b9" stroke="#b9b9b9" stroke-width="1" stroke-linejoin="round"/>
<polygon points="460.9,401.8 453.2,415.9 468.59999999999997,415.9" fill="#b9b9b9" stroke="#b9b9b9" stroke-width="1" stroke-linejoin="round"/>
<polygon points="484.9,401.8 477.2,415.9 492.59999999999997,415.9" fill="#b9b9b9" stroke="#b9b9b9" stroke-width="1" stroke-linejoin="round"/>
<polygon points="473.8,397.3 466.1,411.4 481.5,411.4" fill="#b9b9b9" stroke="#b9b9b9" stroke-width="1" stroke-linejoin="round"/>
<polygon points="478.3,409.3 470.6,423.4 486.0,423.4" fill="#b9b9b9" stroke="#b9b9b9" stroke-width="1" stroke-linejoin="round"/>
<line x1="457.3" y1="403.9" x2="490.2" y2="403.9" stroke="#111" stroke-width="1.5" stroke-dasharray="3.2 2.2"/>
<rect x="469" y="402" width="9.6" height="5" fill="#b9b9b9"/>
<text x="466.9" y="396.5" font-size="8.1" text-anchor="middle" fill="#2a2a2a" stroke="#2a2a2a" stroke-width="0.25" >9</text>
<text x="480.4" y="395.6" font-size="8.1" text-anchor="middle" fill="#2a2a2a" stroke="#2a2a2a" stroke-width="0.25" >10</text>
<text x="460.9" y="414.2" font-size="8.1" text-anchor="middle" fill="#2a2a2a" stroke="#2a2a2a" stroke-width="0.25" >12</text>
<text x="484.9" y="414.2" font-size="8.1" text-anchor="middle" fill="#2a2a2a" stroke="#2a2a2a" stroke-width="0.25" >3</text>
<text x="473.8" y="409.7" font-size="8.1" text-anchor="middle" fill="#2a2a2a" stroke="#2a2a2a" stroke-width="0.25" >14</text>
<text x="478.3" y="421.7" font-size="8.1" text-anchor="middle" fill="#2a2a2a" stroke="#2a2a2a" stroke-width="0.25" >16</text>
<polyline points="432.8,312.0 432.8,306.9 468.9,306.9 468.9,312.0" fill="none" stroke="#111" stroke-width="1.5" stroke-linejoin="round" />
<text x="445.3" y="311.38" font-size="24" text-anchor="middle" fill="#0a0a0a" font-weight="700" stroke="#0a0a0a" stroke-width="0.3" >*</text>
<text x="455.9" y="311.38" font-size="24" text-anchor="middle" fill="#0a0a0a" font-weight="700" stroke="#0a0a0a" stroke-width="0.3" >*</text>
<rect x="71.3" y="545.8" width="58.5" height="22.4" fill="#e5e5e5"/>
<rect x="71.3" y="573.2" width="58.5" height="22.8" fill="#e8e8e8"/>
<rect x="71.3" y="649.2" width="58.5" height="22.7" fill="#e4e4e4"/>
<rect x="71.3" y="676.5" width="58.5" height="24.5" fill="#e2e2e2"/>
<text x="100.55000000000001" y="524" font-size="12.4" text-anchor="middle" fill="#0a0a0a" font-weight="700" stroke="#0a0a0a" stroke-width="0.25" >N</text>
<line x1="82.4" y1="538.6" x2="91.0" y2="538.6" stroke="#111" stroke-width="2.6" />
<line x1="110.69999999999999" y1="538.6" x2="119.69999999999999" y2="538.6" stroke="#111" stroke-width="2.5" />
<line x1="115.19999999999999" y1="534.2" x2="115.19999999999999" y2="543.0" stroke="#111" stroke-width="2.5" />
<line x1="82.4" y1="641.8" x2="91.0" y2="641.8" stroke="#111" stroke-width="2.6" />
<line x1="110.69999999999999" y1="641.8" x2="119.69999999999999" y2="641.8" stroke="#111" stroke-width="2.5" />
<line x1="115.19999999999999" y1="637.4" x2="115.19999999999999" y2="646.1999999999999" stroke="#111" stroke-width="2.5" />
<rect x="138.4" y="545.8" width="56.9" height="22.4" fill="#e6e6e6"/>
<rect x="138.4" y="573.2" width="56.9" height="22.8" fill="#e8e8e8"/>
<rect x="138.4" y="649.2" width="56.9" height="22.7" fill="#f0f0f0"/>
<rect x="138.4" y="676.5" width="56.9" height="24.5" fill="#e4e4e4"/>
<text x="166.85000000000002" y="524" font-size="12.4" text-anchor="middle" fill="#0a0a0a" font-weight="700" stroke="#0a0a0a" stroke-width="0.25" >N</text>
<line x1="149.5" y1="538.6" x2="158.10000000000002" y2="538.6" stroke="#111" stroke-width="2.6" />
<line x1="177.8" y1="538.6" x2="186.8" y2="538.6" stroke="#111" stroke-width="2.5" />
<line x1="182.3" y1="534.2" x2="182.3" y2="543.0" stroke="#111" stroke-width="2.5" />
<line x1="149.5" y1="641.8" x2="158.10000000000002" y2="641.8" stroke="#111" stroke-width="2.6" />
<line x1="177.8" y1="641.8" x2="186.8" y2="641.8" stroke="#111" stroke-width="2.5" />
<line x1="182.3" y1="637.4" x2="182.3" y2="646.1999999999999" stroke="#111" stroke-width="2.5" />
<rect x="204.3" y="545.8" width="58.3" height="22.4" fill="#ececec"/>
<rect x="204.3" y="573.2" width="58.3" height="22.8" fill="#eeeeee"/>
<rect x="204.3" y="649.2" width="58.3" height="22.7" fill="#f0f0f0"/>
<rect x="204.3" y="676.5" width="58.3" height="24.5" fill="#f3f3f3"/>
<text x="233.45000000000002" y="524" font-size="12.4" text-anchor="middle" fill="#0a0a0a" font-weight="700" stroke="#0a0a0a" stroke-width="0.25" >N</text>
<line x1="215.4" y1="538.6" x2="224.00000000000003" y2="538.6" stroke="#111" stroke-width="2.6" />
<line x1="243.70000000000002" y1="538.6" x2="252.70000000000002" y2="538.6" stroke="#111" stroke-width="2.5" />
<line x1="248.20000000000002" y1="534.2" x2="248.20000000000002" y2="543.0" stroke="#111" stroke-width="2.5" />
<line x1="215.4" y1="641.8" x2="224.00000000000003" y2="641.8" stroke="#111" stroke-width="2.6" />
<line x1="243.70000000000002" y1="641.8" x2="252.70000000000002" y2="641.8" stroke="#111" stroke-width="2.5" />
<line x1="248.20000000000002" y1="637.4" x2="248.20000000000002" y2="646.1999999999999" stroke="#111" stroke-width="2.5" />
<g filter="url(#bl)"><ellipse cx="86.3" cy="558.2" rx="12.700000000000003" ry="1.91" fill="#0b0b0b"/><rect x="75.4" y="555.55" width="21.8" height="5.3" rx="2.65" fill="#0b0b0b"/></g>
<g filter="url(#bl)"><ellipse cx="115.4" cy="558.0" rx="12.199999999999996" ry="1.84" fill="#0b0b0b"/><rect x="105.0" y="555.45" width="20.8" height="5.1" rx="2.55" fill="#0b0b0b"/></g>
<g filter="url(#bl2)"><ellipse cx="86.5" cy="585.8" rx="12.900000000000006" ry="1.22" fill="#0b0b0b"/><rect x="76.3" y="584.1" width="20.4" height="3.4" rx="1.7" fill="#0b0b0b"/></g>
<g filter="url(#bl2)"><ellipse cx="115.6" cy="585.5" rx="11.399999999999999" ry="1.15" fill="#0b0b0b"/><rect x="106.9" y="583.9" width="17.4" height="3.2" rx="1.6" fill="#0b0b0b"/></g>
<g filter="url(#bl)"><ellipse cx="153.8" cy="558.0" rx="12.600000000000009" ry="1.87" fill="#0b0b0b"/><rect x="143.0" y="555.4" width="21.6" height="5.2" rx="2.6" fill="#0b0b0b"/></g>
<g filter="url(#bl)"><ellipse cx="182.3" cy="558.0" rx="10.899999999999991" ry="1.8" fill="#0b0b0b"/><rect x="173.2" y="555.5" width="18.2" height="5.0" rx="2.5" fill="#0b0b0b"/></g>
<g filter="url(#bl2)"><ellipse cx="153.8" cy="585.8" rx="10.799999999999997" ry="1.01" fill="#0b0b0b"/><rect x="145.7" y="584.4" width="16.2" height="2.8" rx="1.4" fill="#0b0b0b"/></g>
<g filter="url(#bl2)"><ellipse cx="181.9" cy="585.6" rx="10.5" ry="1.08" fill="#0b0b0b"/><rect x="174.1" y="584.1" width="15.6" height="3.0" rx="1.5" fill="#0b0b0b"/></g>
<g filter="url(#bl2)"><ellipse cx="219.0" cy="557.6" rx="11.599999999999994" ry="1.26" fill="#0b0b0b"/><rect x="210.55" y="555.85" width="16.9" height="3.5" rx="1.75" fill="#0b0b0b"/></g>
<g filter="url(#bl2)"><ellipse cx="248.7" cy="557.8" rx="13.299999999999997" ry="1.22" fill="#0b0b0b"/><rect x="238.55" y="556.1" width="20.3" height="3.4" rx="1.7" fill="#0b0b0b"/></g>
<g filter="url(#bl2)"><ellipse cx="222.35" cy="585.8" rx="14.150000000000006" ry="1.12" fill="#0b0b0b"/><rect x="211.35" y="584.25" width="22.0" height="3.1" rx="1.55" fill="#0b0b0b"/></g>
<g filter="url(#bl2)"><ellipse cx="247.95" cy="585.8" rx="14.449999999999989" ry="1.12" fill="#0b0b0b"/><rect x="236.65" y="584.25" width="22.6" height="3.1" rx="1.55" fill="#0b0b0b"/></g>
<g filter="url(#bl2)"><ellipse cx="86.2" cy="660.3" rx="12.200000000000003" ry="1.01" fill="#262626"/><rect x="76.7" y="658.9" width="19.0" height="2.8" rx="1.4" fill="#262626"/></g>
<g filter="url(#bl2)"><ellipse cx="110.0" cy="661.0" rx="3.4000000000000057" ry="0.58" fill="#777"/><rect x="107.5" y="660.2" width="5.0" height="1.6" rx="0.8" fill="#777"/></g>
<g filter="url(#bl2)"><ellipse cx="123.30000000000001" cy="660.4" rx="2.8999999999999986" ry="0.61" fill="#666"/><rect x="121.3" y="659.55" width="4.0" height="1.7" rx="0.85" fill="#666"/></g>
<path d="M116.8 671 Q118.2 662.5 120.6 659.4 Q123.5 657.2 127.2 657" fill="none" stroke="#9a9a9a" stroke-width="0.7" filter="url(#bl2)"/>
<g filter="url(#bl2)"><ellipse cx="86.6" cy="689.2" rx="13.800000000000004" ry="1.55" fill="#0b0b0b"/><rect x="75.5" y="687.05" width="22.2" height="4.3" rx="2.15" fill="#0b0b0b"/></g>
<g filter="url(#bl2)"><ellipse cx="115.4" cy="689.2" rx="12.199999999999996" ry="1.44" fill="#0b0b0b"/><rect x="105.9" y="687.2" width="19.0" height="4.0" rx="2.0" fill="#0b0b0b"/></g>
<g filter="url(#bl2)"><ellipse cx="152.0" cy="659.4" rx="10.5" ry="0.72" fill="#3a3a3a"/><rect x="144.2" y="658.4" width="15.6" height="2.0" rx="1.0" fill="#3a3a3a"/></g>
<g filter="url(#bl2)"><ellipse cx="179.5" cy="660.4" rx="9.0" ry="0.54" fill="#a0a0a0"/><rect x="172.75" y="659.65" width="13.5" height="1.5" rx="0.75" fill="#a0a0a0"/></g>
<g filter="url(#bl2)"><ellipse cx="154.3" cy="690.8" rx="13.700000000000003" ry="1.04" fill="#151515"/><rect x="143.75" y="689.35" width="21.1" height="2.9" rx="1.45" fill="#151515"/></g>
<g filter="url(#bl2)"><ellipse cx="179.7" cy="691.2" rx="15.700000000000003" ry="0.9" fill="#2a2a2a"/><rect x="167.6" y="689.95" width="24.2" height="2.5" rx="1.25" fill="#2a2a2a"/></g>
<g filter="url(#bl2)"><ellipse cx="220.25" cy="660.4" rx="12.349999999999994" ry="1.58" fill="#0b0b0b"/><rect x="210.15" y="658.2" width="20.2" height="4.4" rx="2.2" fill="#0b0b0b"/></g>
<g filter="url(#bl2)"><ellipse cx="243.8" cy="660.6" rx="5.200000000000003" ry="1.15" fill="#1a1a1a"/><rect x="240.4" y="659.0" width="6.8" height="3.2" rx="1.6" fill="#1a1a1a"/></g>
<g filter="url(#bl2)"><ellipse cx="251.7" cy="661.0" rx="7.699999999999989" ry="0.72" fill="#2a2a2a"/><rect x="246.7" y="660.0" width="10.0" height="2.0" rx="1.0" fill="#2a2a2a"/></g>
<g filter="url(#bl2)"><ellipse cx="223.0" cy="690.0" rx="14.0" ry="1.37" fill="#0b0b0b"/><rect x="212.15" y="688.1" width="21.7" height="3.8" rx="1.9" fill="#0b0b0b"/></g>
<g filter="url(#bl2)"><ellipse cx="248.0" cy="690.0" rx="15.0" ry="1.33" fill="#0b0b0b"/><rect x="236.15" y="688.15" width="23.7" height="3.7" rx="1.85" fill="#0b0b0b"/></g>
<text x="100.2" y="631" font-size="13" text-anchor="middle" fill="#0a0a0a" font-weight="700" stroke="#0a0a0a" stroke-width="0.25" >PV#3</text>
<text x="167.3" y="631" font-size="13" text-anchor="middle" fill="#0a0a0a" font-weight="700" stroke="#0a0a0a" stroke-width="0.25" >PV#16</text>
<text x="233.5" y="631" font-size="13" text-anchor="middle" fill="#0a0a0a" font-weight="700" stroke="#0a0a0a" stroke-width="0.25" >PV#12</text>
<text x="36.4" y="541.6" font-size="9.8" text-anchor="start" fill="#0a0a0a" stroke="#0a0a0a" stroke-width="0.25" >kDa</text>
<text x="40.0" y="561.6" font-size="10.2" text-anchor="start" fill="#0a0a0a" stroke="#0a0a0a" stroke-width="0.25" >46</text>
<line x1="55" y1="558.0" x2="66.4" y2="558.0" stroke="#111" stroke-width="2.6" />
<text x="40.0" y="589.4" font-size="10.2" text-anchor="start" fill="#0a0a0a" stroke="#0a0a0a" stroke-width="0.25" >42</text>
<line x1="55" y1="585.8" x2="66.4" y2="585.8" stroke="#111" stroke-width="2.6" />
<text x="268" y="541.8" font-size="7.9" text-anchor="start" fill="#0a0a0a" font-weight="700" stroke="#0a0a0a" stroke-width="0.25" >ABT-737</text>
<text x="268" y="561.4" font-size="9.5" text-anchor="start" fill="#0a0a0a" font-weight="700" stroke="#0a0a0a" stroke-width="0.25" >Gata-1</text>
<text x="268" y="588.8" font-size="9.6" text-anchor="start" fill="#0a0a0a" font-weight="700" stroke="#0a0a0a" stroke-width="0.25" ><tspan font-weight="400" font-size="10.4">β</tspan>-actin</text>
<text x="36.4" y="646.4" font-size="9.8" text-anchor="start" fill="#0a0a0a" stroke="#0a0a0a" stroke-width="0.25" >kDa</text>
<text x="40.0" y="663.9" font-size="10.2" text-anchor="start" fill="#0a0a0a" stroke="#0a0a0a" stroke-width="0.25" >46</text>
<line x1="55" y1="660.3" x2="66.4" y2="660.3" stroke="#111" stroke-width="2.6" />
<text x="40.0" y="693.0" font-size="10.2" text-anchor="start" fill="#0a0a0a" stroke="#0a0a0a" stroke-width="0.25" >42</text>
<line x1="55" y1="689.4" x2="66.4" y2="689.4" stroke="#111" stroke-width="2.6" />
<text x="268" y="644.6" font-size="7.9" text-anchor="start" fill="#0a0a0a" font-weight="700" stroke="#0a0a0a" stroke-width="0.25" >ABT-737</text>
<text x="268" y="664.6" font-size="9.5" text-anchor="start" fill="#0a0a0a" font-weight="700" stroke="#0a0a0a" stroke-width="0.25" >Gata-1</text>
<text x="268" y="691.8" font-size="9.6" text-anchor="start" fill="#0a0a0a" font-weight="700" stroke="#0a0a0a" stroke-width="0.25" ><tspan font-weight="400" font-size="10.4">β</tspan>-actin</text>
<line x1="369.2" y1="526.0" x2="369.2" y2="673.5" stroke="#111" stroke-width="1.6" />
<line x1="368.4" y1="672.7" x2="510.5" y2="672.7" stroke="#111" stroke-width="1.6" />
<line x1="362" y1="672.7" x2="369.2" y2="672.7" stroke="#111" stroke-width="1.7" />
<text x="359.0" y="676.5" font-size="10.7" text-anchor="end" fill="#0a0a0a" stroke="#0a0a0a" stroke-width="0.25" >0</text>
<line x1="362" y1="648.4" x2="369.2" y2="648.4" stroke="#111" stroke-width="1.7" />
<text x="359.0" y="652.1999999999999" font-size="10.7" text-anchor="end" fill="#0a0a0a" stroke="#0a0a0a" stroke-width="0.25" >20</text>
<line x1="362" y1="624.1" x2="369.2" y2="624.1" stroke="#111" stroke-width="1.7" />
<text x="359.0" y="627.9" font-size="10.7" text-anchor="end" fill="#0a0a0a" stroke="#0a0a0a" stroke-width="0.25" >40</text>
<line x1="362" y1="599.8" x2="369.2" y2="599.8" stroke="#111" stroke-width="1.7" />
<text x="359.0" y="603.5999999999999" font-size="10.7" text-anchor="end" fill="#0a0a0a" stroke="#0a0a0a" stroke-width="0.25" >60</text>
<line x1="362" y1="575.5" x2="369.2" y2="575.5" stroke="#111" stroke-width="1.7" />
<text x="359.0" y="579.3" font-size="10.7" text-anchor="end" fill="#0a0a0a" stroke="#0a0a0a" stroke-width="0.25" >80</text>
<line x1="362" y1="551.2" x2="369.2" y2="551.2" stroke="#111" stroke-width="1.7" />
<text x="359.0" y="555.0" font-size="10.7" text-anchor="end" fill="#0a0a0a" stroke="#0a0a0a" stroke-width="0.25" >100</text>
<line x1="362" y1="526.9" x2="369.2" y2="526.9" stroke="#111" stroke-width="1.7" />
<text x="359.0" y="530.6999999999999" font-size="10.7" text-anchor="end" fill="#0a0a0a" stroke="#0a0a0a" stroke-width="0.25" >120</text>
<line x1="369.2" y1="672.7" x2="369.2" y2="678" stroke="#111" stroke-width="1.7" />
<line x1="407.7" y1="672.7" x2="407.7" y2="678" stroke="#111" stroke-width="1.7" />
<line x1="487.7" y1="672.7" x2="487.7" y2="678" stroke="#111" stroke-width="1.7" />
<line x1="487.7" y1="548" x2="487.7" y2="590.4" stroke="#111" stroke-width="1.7" />
<line x1="483.8" y1="548" x2="491.59999999999997" y2="548" stroke="#111" stroke-width="1.7" />
<line x1="483.8" y1="590.4" x2="491.59999999999997" y2="590.4" stroke="#111" stroke-width="1.7" />
<line x1="487.7" y1="593" x2="487.7" y2="653.8" stroke="#111" stroke-width="1.7" />
<line x1="483.8" y1="593" x2="491.59999999999997" y2="593" stroke="#111" stroke-width="1.7" />
<line x1="483.8" y1="653.8" x2="491.59999999999997" y2="653.8" stroke="#111" stroke-width="1.7" />
<polyline points="407.7,551.2 487.7,569.43" fill="none" stroke="#111" stroke-width="2.0" stroke-linejoin="round" />
<polyline points="407.7,551.2 487.7,624.1" fill="none" stroke="#111" stroke-width="2.0" stroke-linejoin="round" />
<rect x="403.3" y="546.3000000000001" width="8.6" height="8.6" rx="0" fill="#fff" stroke="#111" stroke-width="1.5"/>
<polygon points="407.4,545.02368 401.79999999999995,555.32768 413.0,555.32768" fill="none" stroke="#111" stroke-width="2.0" stroke-linejoin="round"/>
<rect x="483.2" y="565.3" width="9" height="7.9" fill="#fff" stroke="#111" stroke-width="1.6"/>
<polygon points="487.7,618.41696 482.0,628.90496 493.4,628.90496" fill="#fff" stroke="#111" stroke-width="2.0" stroke-linejoin="round"/>
<text x="487.7" y="548.08" font-size="24" text-anchor="middle" fill="#0a0a0a" font-weight="700" stroke="#0a0a0a" stroke-width="0.3" >*</text>
<line x1="390.4" y1="628" x2="406.5" y2="628" stroke="#111" stroke-width="1.8" />
<rect x="395.6" y="625.0" width="6.0" height="6.0" rx="0" fill="#fff" stroke="#111" stroke-width="1.7"/>
<line x1="390.4" y1="642.3" x2="406.5" y2="642.3" stroke="#111" stroke-width="1.8" />
<polygon points="398.6,638.24464 394.8,645.23664 402.40000000000003,645.23664" fill="#fff" stroke="#111" stroke-width="1.7" stroke-linejoin="round"/>
<text x="411.8" y="631.6" font-size="10" text-anchor="start" fill="#0a0a0a" stroke="#0a0a0a" stroke-width="0.25" >N</text>
<text x="411.8" y="645.9" font-size="10" text-anchor="start" fill="#0a0a0a" stroke="#0a0a0a" stroke-width="0.25" >PV</text>
<line x1="401.5" y1="685.8" x2="414" y2="685.8" stroke="#111" stroke-width="2.0" />
<text x="487.3" y="693.2" font-size="10.8" text-anchor="middle" fill="#0a0a0a" font-weight="700" stroke="#0a0a0a" stroke-width="0.25" >ABT-737</text>
<text x="334.3" y="599.6" font-size="14.6" text-anchor="middle" fill="#0a0a0a" font-weight="700" stroke="#0a0a0a" stroke-width="0.25" textLength="109" lengthAdjust="spacingAndGlyphs" transform="rotate(-90 334.3 599.6)" >Gata-1 Levels (%)</text>
</g>
</svg></body></html>
